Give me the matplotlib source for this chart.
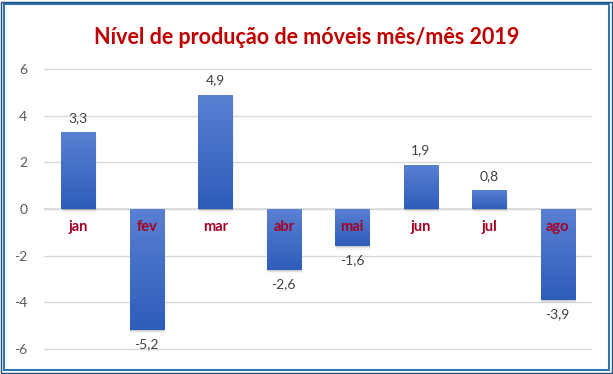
import matplotlib
matplotlib.use("Agg")
import matplotlib.pyplot as plt
import numpy as np
from matplotlib.patches import Rectangle
from matplotlib.colors import LinearSegmentedColormap

months = ["jan", "fev", "mar", "abr", "mai", "jun", "jul", "ago"]
values = [3.3, -5.2, 4.9, -2.6, -1.6, 1.9, 0.8, -3.9]
yticks = [-6, -4, -2, 0, 2, 4, 6]
title = "Nível de produção de móveis mês/mês 2019"

fig = plt.figure(figsize=(6.13, 3.74), dpi=100)
ax = fig.add_axes([44/613, 1-351/374, (592-44)/613, (351-67)/374])

x = np.arange(len(months))
w = 0.5
grad = np.linspace(1, 0, 256).reshape(-1, 1)
cmap = LinearSegmentedColormap.from_list("g", ["#2D5DBA", "#5A80D2"])
bars = ax.bar(x, values, width=w, color="#3F6CC4", zorder=3)
for b, v in zip(bars, values):
    x0, y0 = b.get_x(), b.get_y()
    bw, bh = b.get_width(), b.get_height()
    # soft shadow
    for k, a in enumerate([0.10, 0.07, 0.04]):
        d = 0.012 * (k + 1)
        sh = Rectangle((x0 + d * 0.5, y0 - 4 * d), bw, bh, color="#000000", alpha=a, zorder=2, lw=0)
        ax.add_patch(sh)
    ylo, yhi = min(0, v), max(0, v)
    im = ax.imshow(grad, cmap=cmap, extent=[x0, x0 + bw, ylo, yhi], aspect="auto", zorder=4)
    im.set_clip_path(b)

ax.set_xlim(-0.5, len(months) - 0.5)
ax.set_ylim(-6.1, 6.1)

for xi, v in zip(x, values):
    lbl = f"{v:.1f}".replace(".", ",")
    if v >= 0:
        ax.annotate(lbl, (xi, v), xytext=(0, 6), textcoords="offset points", ha="center", va="bottom",
                    fontsize=10, color="#404040", family="Lato", zorder=6)
    else:
        ax.annotate(lbl, (xi, v), xytext=(0, -6), textcoords="offset points", ha="center", va="top",
                    fontsize=10, color="#404040", family="Lato", zorder=6)
    ax.annotate(months[xi], (xi, 0), xytext=(0, -13), textcoords="offset points", ha="center", va="center",
                fontsize=10.5, color="#A50021", family="Lato", fontweight="bold", zorder=7)

ax.set_yticks(yticks)
ax.set_yticklabels([str(t) for t in yticks], fontsize=10, color="#595959", family="Lato")
ax.tick_params(axis="y", length=0, pad=12)
ax.set_xticks([])
for s in ax.spines.values():
    s.set_visible(False)
ax.grid(axis="y", color="#D9D9D9", lw=1, zorder=0)
ax.axhline(0, color="#D9D9D9", lw=1.2, zorder=1)

fig.text(0.5, 1 - 38/374, title, ha="center", va="center", fontsize=15.5, color="#C00000",
         family="Lato", fontweight="bold")

# border
fig.patches.append(Rectangle((4/613, 4/374), 1 - 8/613, 1 - 8/374, transform=fig.transFigure,
                             fill=False, ec="#2E75B6", lw=1.5))
fig.patches.append(Rectangle((1.5/613, 1.5/374), 1 - 3/613, 1 - 3/374, transform=fig.transFigure,
                             fill=False, ec="#1F4E79", lw=1.0))

fig.savefig("out.png", dpi=100)
